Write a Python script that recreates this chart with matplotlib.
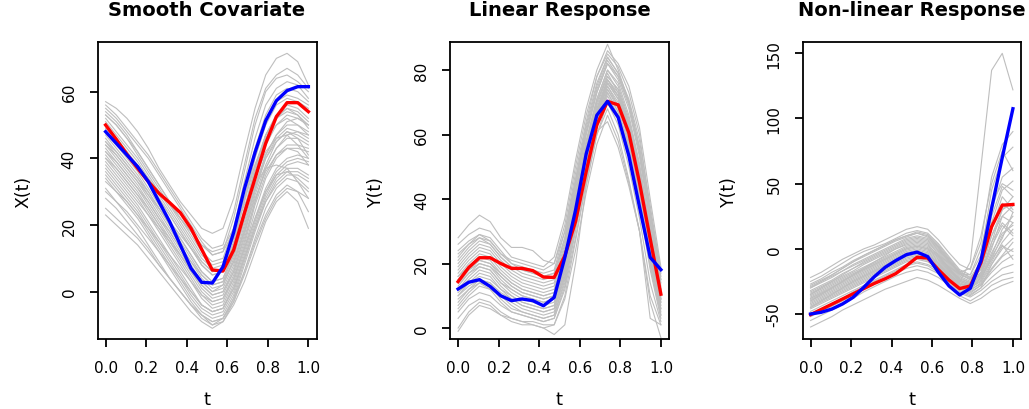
import numpy as np
import matplotlib
matplotlib.use('Agg')
import matplotlib.pyplot as plt

plt.rcParams['font.family'] = ['DejaVu Sans']
plt.rcParams['axes.unicode_minus'] = False

# 20 equally spaced sampling points on [0, 1]
t = np.linspace(0, 1, 20)

# ---------------------------------------------------------------------
# Panel 1: smooth covariate X(t)
# ---------------------------------------------------------------------
x_gray = [
    [57, 55, 52, 48, 43, 37, 32, 27, 23, 19, 17.5, 19, 28, 42, 55, 65, 70, 71.5, 69, 62],
    [55, 52, 48, 44, 40, 35, 30, 25, 20, 15, 11, 12, 22, 36, 50, 60, 64, 65, 63, 60],
    [53, 50, 46, 42, 37, 32, 27, 22, 17, 12, 9, 10, 19, 33, 46, 56, 61, 63, 62, 58],
    [52, 48, 44, 40, 35, 30, 25, 20, 15, 10, 7, 8, 17, 30, 43, 53, 59, 61, 60, 57],
    [50, 46, 42, 37, 33, 28, 23, 18, 13, 8, 5, 6, 14, 27, 40, 50, 56, 58, 57, 55],
    [48, 44, 40, 36, 31, 26, 21, 16, 11, 6, 3, 4, 12, 24, 37, 47, 53, 56, 55, 52],
    [46, 42, 38, 34, 29, 24, 19, 14, 9, 4, 1, 2, 10, 22, 34, 44, 50, 53, 52, 50],
    [45, 41, 37, 33, 28, 23, 18, 13, 8, 3, 0, 1, 8, 19, 31, 41, 47, 50, 50, 48],
    [43, 39, 35, 31, 26, 21, 16, 11, 6, 1, -2, -1, 6, 17, 29, 38, 45, 48, 47, 45],
    [42, 38, 34, 30, 25, 20, 15, 10, 5, 0, -3, -2, 5, 15, 27, 37, 43, 46, 46, 44],
    [40, 36, 32, 28, 23, 18, 13, 8, 3, -2, -5, -4, 3, 13, 24, 34, 40, 43, 43, 42],
    [38, 34, 30, 26, 21, 16, 11, 6, 1, -4, -6, -5, 2, 12, 22, 31, 37, 40, 41, 40],
    [36, 32, 28, 24, 19, 14, 9, 4, -1, -5, -7, -6, 0, 10, 20, 29, 35, 38, 39, 38],
    [34, 30, 26, 22, 17, 12, 7, 2, -3, -7, -9, -8, -2, 8, 18, 27, 33, 36, 36, 34],
    [31, 27, 23, 19, 14, 9, 4, 0, -4, -8, -10, -9, -3, 6, 16, 25, 31, 34, 33, 30],
    [28, 25, 21, 17, 13, 8, 4, 0, -4, -7, -9, -8, -3, 5, 14, 22, 28, 31, 30, 28],
    [23, 20, 17, 14, 10, 6, 2, -2, -6, -9, -11, -9, -4, 3, 12, 21, 27, 30, 27, 19],
    [25, 22, 19, 16, 12, 8, 4, 0, -4, -7, -10, -8, -2, 6, 15, 23, 29, 32, 30, 24],
    [54, 51, 47, 42, 37, 32, 27, 22, 18, 14, 12, 13, 19, 26, 32, 37, 38, 37, 33, 28],
    [49, 46, 42, 38, 34, 30, 26, 22, 18, 14, 11, 12, 18, 28, 38, 46, 50, 52, 50, 47],
    [44, 41, 37, 33, 29, 25, 21, 17, 13, 9, 6, 7, 14, 24, 34, 42, 46, 47, 44, 40],
    [39, 35, 31, 27, 23, 19, 15, 11, 7, 3, 0, 2, 9, 20, 31, 40, 45, 48, 46, 41],
    [56, 53, 49, 45, 41, 36, 31, 26, 21, 16, 13, 14, 24, 38, 52, 61, 65, 67, 65, 61],
    [33, 30, 27, 23, 19, 15, 11, 7, 3, -1, -3, -2, 4, 13, 22, 30, 35, 36, 34, 31],
    [47, 43, 39, 35, 30, 25, 20, 15, 10, 5, 2, 3, 11, 23, 36, 46, 52, 55, 54, 51],
    [44, 40, 36, 32, 27, 22, 17, 12, 7, 2, -1, 0, 7, 18, 30, 40, 46, 49, 48, 46],
    [41, 37, 33, 29, 24, 19, 14, 9, 4, -1, -4, -3, 4, 14, 26, 35, 41, 44, 44, 43],
    [51, 47, 43, 39, 34, 29, 24, 19, 14, 9, 6, 7, 15, 28, 41, 51, 57, 59, 58, 56],
    [37, 33, 29, 25, 20, 15, 10, 5, 0, -4, -6, -5, 1, 11, 21, 30, 36, 39, 40, 39],
    [45, 42, 38, 34, 30, 25, 20, 16, 11, 6, 3, 4, 11, 21, 32, 41, 47, 51, 52, 50],
    [40, 37, 33, 29, 25, 20, 16, 11, 6, 2, -1, 0, 6, 16, 27, 37, 43, 47, 48, 47],
    [35, 31, 27, 23, 18, 13, 8, 3, -2, -6, -8, -7, -1, 9, 19, 28, 34, 37, 37, 35],
    [48, 45, 41, 37, 33, 28, 23, 18, 13, 8, 5, 6, 13, 25, 37, 47, 53, 55, 53, 49],
    [30, 27, 24, 20, 16, 12, 8, 4, 0, -4, -6, -5, 1, 10, 19, 27, 32, 35, 35, 33],
    [42, 39, 35, 31, 27, 22, 18, 13, 9, 5, 2, 3, 9, 18, 28, 36, 41, 43, 42, 38],
    [53, 50, 46, 41, 36, 31, 26, 21, 16, 11, 8, 9, 16, 27, 38, 47, 52, 54, 53, 50],
]
x_red = [50, 45.7, 41.2, 37, 33, 29.5, 26.7, 23.7, 19, 12.7, 6.5, 6.2, 12.5, 23.5, 34, 44.5, 52.5, 56.7, 56.7, 54]
x_blue = [48, 44.5, 41, 37.5, 33, 27, 21, 14, 7, 2.8, 2.6, 7.5, 17.8, 30.8, 41.8, 51.3, 57.3, 60.3, 61.5, 61.5]

# ---------------------------------------------------------------------
# Panel 2: linear response Y(t)
# ---------------------------------------------------------------------
y_lin_gray = [
    [28, 32, 35, 33, 28, 25, 25, 24, 21, 20, 30, 48, 64, 78, 86, 82, 75, 62, 40, 19],
    [26, 29, 31, 30, 26, 22, 21, 20, 19, 22, 34, 52, 68, 80, 88, 80, 70, 55, 33, 15],
    [22, 26, 29, 28, 24, 20, 19, 18, 17, 18, 30, 46, 62, 75, 84, 79, 71, 58, 38, 17],
    [20, 24, 27, 26, 22, 19, 17, 16, 15, 16, 27, 44, 60, 73, 82, 77, 68, 53, 33, 13],
    [18, 22, 25, 24, 20, 17, 15, 14, 13, 14, 25, 42, 58, 71, 80, 75, 65, 50, 30, 12],
    [16, 20, 23, 22, 18, 15, 13, 12, 11, 12, 23, 40, 56, 70, 78, 74, 64, 48, 28, 10],
    [14, 18, 21, 20, 16, 13, 11, 10, 9, 10, 21, 38, 55, 68, 77, 72, 62, 46, 26, 9],
    [12, 16, 19, 18, 14, 11, 9, 8, 7, 8, 19, 36, 53, 67, 76, 71, 60, 44, 24, 8],
    [10, 14, 17, 16, 12, 9, 7, 6, 5, 6, 17, 34, 51, 65, 75, 70, 58, 42, 22, 6],
    [8, 12, 15, 14, 10, 7, 5, 4, 3, 4, 15, 32, 50, 64, 74, 68, 56, 40, 20, 4],
    [6, 10, 13, 12, 8, 5, 4, 3, 2, 3, 13, 30, 48, 62, 72, 66, 54, 38, 18, 3],
    [3, 7, 9, 8, 5, 3, 2, 1, 0, 1, 10, 27, 45, 60, 70, 63, 50, 34, 14, 2],
    [-1, 4, 7, 6, 4, 2, 1, 1, 0, -2, 1, 20, 44, 60, 68, 60, 46, 30, 8, -3],
    [0, 5, 8, 7, 4, 3, 2, 2, 1, 1, 9, 24, 42, 57, 66, 58, 45, 30, 10, 1],
    [24, 27, 29, 27, 23, 21, 20, 19, 18, 20, 32, 50, 66, 78, 85, 81, 73, 60, 36, 18],
    [5, 9, 11, 10, 7, 5, 4, 3, 2, 3, 12, 28, 46, 61, 64, 56, 44, 30, 3, 1],
    [15, 19, 22, 21, 17, 14, 12, 11, 10, 11, 22, 39, 57, 70, 79, 73, 63, 47, 29, 11],
    [11, 14, 16, 15, 12, 10, 8, 7, 6, 7, 18, 35, 52, 66, 75, 69, 59, 43, 23, 7],
    [9, 12, 14, 12, 10, 8, 6, 5, 4, 5, 16, 33, 49, 63, 73, 67, 57, 41, 21, 5],
    [21, 25, 28, 27, 23, 20, 18, 17, 16, 17, 28, 45, 61, 74, 83, 78, 70, 56, 36, 16],
    [17, 21, 24, 23, 19, 16, 14, 13, 12, 13, 24, 41, 58, 71, 80, 76, 66, 51, 31, 12],
    [13, 17, 20, 19, 15, 12, 10, 9, 8, 9, 20, 37, 54, 67, 77, 73, 63, 47, 27, 9],
    [19, 23, 26, 25, 21, 18, 16, 15, 14, 15, 26, 43, 60, 73, 82, 78, 69, 54, 33, 14],
    [10, 13, 15, 14, 11, 9, 7, 6, 5, 6, 16, 33, 50, 64, 74, 69, 58, 42, 22, 6],
    [15, 18, 20, 19, 16, 13, 11, 10, 9, 10, 20, 37, 54, 67, 76, 72, 62, 46, 26, 10],
    [12, 15, 18, 17, 13, 10, 8, 7, 6, 7, 18, 35, 52, 66, 76, 71, 61, 45, 25, 8],
    [7, 11, 14, 13, 9, 6, 5, 4, 3, 4, 14, 31, 49, 63, 73, 67, 55, 39, 19, 4],
    [23, 26, 28, 26, 22, 19, 18, 17, 16, 17, 28, 46, 63, 76, 84, 79, 70, 56, 35, 15],
    [16, 19, 21, 20, 17, 14, 12, 11, 10, 11, 21, 38, 55, 69, 78, 74, 64, 49, 29, 11],
    [14, 17, 19, 18, 14, 12, 10, 9, 8, 9, 19, 36, 53, 68, 77, 72, 61, 45, 25, 9],
]
y_lin_red = [14.4, 18.8, 21.8, 21.8, 20, 18.5, 18.5, 17.8, 15.8, 15.7, 22.4, 33, 48.5, 63, 70.3, 69.2, 60.5, 45, 27.6, 10.5]
y_lin_blue = [12.1, 14.2, 15, 12.9, 10, 8.5, 9, 8.5, 6.9, 9.5, 21.9, 36.5, 54, 66, 70.3, 65.3, 53.4, 37.5, 21.9, 18.1]

# ---------------------------------------------------------------------
# Panel 3: non-linear response Y(t)
# ---------------------------------------------------------------------
y_nl_gray = [
    [-40, -35, -30, -25, -20, -15, -10, -5, 0, 3, 5, 3, -5, -15, -25, -10, 63, 137, 150, 122],
    [-22, -18, -13, -8, -4, 0, 3, 7, 11, 15, 17, 15, 7, -3, -12, -16, 5, 55, 80, 90],
    [-25, -21, -16, -11, -6, -2, 1, 4, 8, 12, 14, 12, 4, -6, -16, -20, -5, 45, 70, 78],
    [-28, -24, -20, -15, -10, -6, -2, 2, 6, 9, 12, 10, 2, -8, -18, -22, -10, 30, 55, 62],
    [-30, -26, -22, -17, -13, -9, -5, -1, 3, 7, 9, 7, 0, -10, -19, -24, -15, 20, 45, 52],
    [-33, -29, -25, -21, -17, -12, -8, -4, 0, 4, 6, 4, -3, -12, -21, -25, -18, 10, 30, 40],
    [-35, -31, -27, -23, -19, -15, -11, -7, -3, 1, 3, 1, -5, -14, -23, -26, -20, 0, 25, 33],
    [-38, -34, -30, -26, -22, -18, -14, -10, -6, -2, 0, -2, -8, -16, -25, -28, -22, -5, 15, 25],
    [-40, -36, -32, -28, -24, -20, -16, -12, -8, -4, -2, -4, -10, -18, -27, -30, -25, -10, 5, 15],
    [-42, -38, -34, -30, -26, -22, -18, -14, -10, -6, -4, -6, -12, -20, -28, -31, -27, -15, -5, 5],
    [-45, -41, -37, -33, -29, -25, -21, -17, -13, -9, -7, -9, -14, -22, -30, -33, -28, -18, -10, -5],
    [-48, -44, -40, -36, -32, -28, -24, -20, -16, -12, -10, -12, -16, -24, -32, -35, -30, -22, -15, -12],
    [-52, -48, -44, -40, -35, -31, -27, -23, -19, -15, -13, -15, -19, -26, -34, -37, -32, -25, -20, -18],
    [-55, -51, -47, -43, -38, -33, -29, -25, -21, -18, -16, -18, -22, -28, -36, -40, -35, -28, -24, -22],
    [-60, -56, -52, -47, -43, -39, -35, -31, -28, -25, -22, -24, -28, -33, -38, -42, -38, -32, -28, -25],
    [-35, -30, -25, -20, -15, -10, -6, -2, 2, 6, 8, 6, -1, -10, -18, -15, 10, 50, 75, 60],
    [-30, -25, -20, -15, -10, -5, -1, 3, 7, 10, 12, 9, 1, -9, -19, -20, 0, 35, 50, 45],
    [-45, -40, -35, -30, -25, -21, -17, -13, -9, -5, -3, -5, -11, -19, -27, -28, -15, 15, 40, 30],
    [-27, -23, -18, -14, -9, -5, -1, 3, 7, 10, 13, 11, 3, -7, -17, -22, -14, 10, 25, 20],
    [-50, -46, -42, -38, -33, -29, -25, -21, -17, -13, -11, -13, -18, -25, -33, -36, -30, -12, 2, -2],
    [-38, -34, -30, -25, -20, -16, -12, -8, -4, 0, 2, 0, -6, -15, -24, -27, -20, 5, 30, 35],
    [-32, -28, -24, -19, -15, -11, -7, -3, 1, 5, 7, 5, -2, -11, -20, -23, -12, 15, 35, 28],
    [-36, -32, -28, -24, -20, -16, -12, -8, -4, 0, 2, 0, -6, -15, -24, -27, -21, -3, 12, 18],
    [-43, -39, -35, -31, -27, -23, -19, -15, -11, -7, -5, -7, -13, -21, -29, -32, -26, -12, 0, 8],
    [-39, -35, -31, -27, -23, -19, -15, -11, -7, -3, -1, -3, -9, -17, -26, -29, -23, -8, 10, 20],
    [-46, -42, -38, -34, -30, -26, -22, -18, -14, -10, -8, -10, -15, -23, -31, -34, -28, -16, -6, 0],
    [-34, -30, -26, -22, -18, -14, -10, -6, -2, 2, 4, 2, -4, -13, -22, -26, -19, 5, 20, 12],
    [-41, -37, -33, -29, -25, -21, -17, -13, -9, -5, -3, -5, -11, -19, -27, -30, -24, -6, 8, 28],
    [-29, -25, -21, -17, -12, -8, -4, 0, 4, 8, 10, 8, 1, -9, -19, -23, -16, 25, 48, 40],
    [-37, -33, -29, -25, -21, -17, -13, -9, -5, -1, 1, -1, -7, -16, -25, -28, -18, 2, 18, 10],
    [-44, -40, -36, -32, -28, -24, -20, -16, -12, -8, -6, -8, -13, -21, -29, -31, -22, -8, 3, -8],
]
y_nl_red = [-50.5, -46.5, -42.5, -38.5, -34.5, -30.5, -26.5, -23, -19, -13, -6.5, -7, -16, -24, -30.5, -28.5, -10.5, 17, 33.5, 34]
y_nl_blue = [-50, -48.7, -46.2, -42.3, -37.2, -29.5, -21.3, -14.2, -9, -4.5, -2.5, -6, -18, -28.5, -35.4, -30.3, -9, 31, 70, 107.5]

titles = ['Smooth Covariate', 'Linear Response', 'Non-linear Response']
ylabels = ['X(t)', 'Y(t)', 'Y(t)']
xticks = [0.0, 0.2, 0.4, 0.6, 0.8, 1.0]
xticklabels = ['0.0', '0.2', '0.4', '0.6', '0.8', '1.0']
yticks = [[0, 20, 40, 60], [0, 20, 40, 60, 80], [-50, 0, 50, 100, 150]]
ylims = [(-14.2, 74.9), (-3.4, 88.7), (-69.2, 158.7)]

grays = [x_gray, y_lin_gray, y_nl_gray]
reds = [x_red, y_lin_red, y_nl_red]
blues = [x_blue, y_lin_blue, y_nl_blue]

# axes boxes in pixel coordinates
W, H = 1029, 410
lefts = [97.5, 450, 802.5]
widths = [219, 219, 218.5]
top, bottom = 43, 340

fig = plt.figure(figsize=(W / 100, H / 100), dpi=100)

for i in range(3):
    ax = fig.add_axes([lefts[i] / W, (H - bottom) / H, widths[i] / W, (bottom - top) / H])
    for g in grays[i]:
        ax.plot(t, g, color='#bebebe', lw=0.8)
    ax.plot(t, reds[i], color='red', lw=2.4)
    ax.plot(t, blues[i], color='blue', lw=2.4)

    ax.set_xlim(-0.04, 1.04)
    ax.set_ylim(*ylims[i])
    ax.set_xticks(xticks)
    ax.set_xticklabels(xticklabels)
    ax.set_yticks(yticks[i])
    ax.set_yticklabels([str(v) for v in yticks[i]], rotation=90, va='center')

    for sp in ax.spines.values():
        sp.set_linewidth(1.3)
    ax.tick_params(length=6, width=1.3, pad=9, labelsize=11)

    ax.set_title(titles[i], fontsize=14, fontweight='bold', pad=19.5)
    ax.set_xlabel('t', fontsize=13, va='baseline')
    ax.xaxis.set_label_coords(0.5, -(405 - bottom) / (bottom - top))
    ax.set_ylabel(ylabels[i], fontsize=12.5)
    ax.yaxis.set_label_coords(-65 / widths[i], 0.5)

fig.savefig('out.png', dpi=100)
